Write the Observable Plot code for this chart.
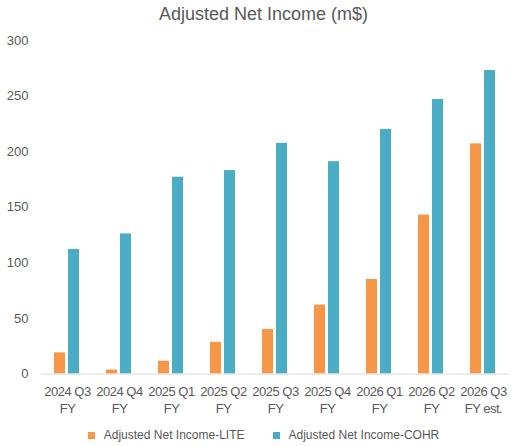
<!DOCTYPE html>
<html><head><meta charset="utf-8">
<script src="https://cdn.jsdelivr.net/npm/d3@7"></script>
<script src="https://cdn.jsdelivr.net/npm/@observablehq/plot@0.6"></script>
<style>
body{margin:0;background:#fff;font-family:"Liberation Sans",Arial,sans-serif;color:#595959;width:527px;}
#title{height:28px;line-height:28px;text-align:center;font-size:18px;}
#legend{display:flex;justify-content:center;gap:28px;font-size:12px;margin-top:8px;}
#legend .item{display:flex;align-items:center;gap:9px;}
#legend .sw{width:7px;height:7px;display:inline-block;}
g[aria-label="fx-axis tick label"] text{letter-spacing:-0.5px;}
</style></head><body>
<div id="title">Adjusted Net Income (m$)</div>
<div id="chart"></div>
<div id="legend"></div>
<script>
const quarters = ["2024 Q3","2024 Q4","2025 Q1","2025 Q2","2025 Q3","2025 Q4","2026 Q1","2026 Q2","2026 Q3"];
const suffixes = ["FY","FY","FY","FY","FY","FY","FY","FY","FY est."];
const series = ["Adjusted Net Income-LITE","Adjusted Net Income-COHR"];
const colors = ["#F79646","#4BACC6"];
const lite = [19, 3.6, 11.5, 28.5, 40, 62, 85, 143, 207];
const cohr = [112, 126, 177, 183, 207.5, 191, 220, 247, 273];
const yTicks = [0,50,100,150,200,250,300];

const data = quarters.flatMap((q,i)=>[
  {q, s: series[0], v: lite[i]},
  {q, s: series[1], v: cohr[i]}
]);

const plot = Plot.plot({
  width: 527, height: 392,
  marginTop: 12, marginBottom: 46.5, marginLeft: 38, marginRight: 15,
  style: {fontSize: "13px", color: "#595959", fontFamily: '"Liberation Sans", Arial, sans-serif', background: "#fff"},
  fx: {domain: quarters, padding: 0, label: null},
  x: {domain: series, paddingInner: 0.2, paddingOuter: 0.857, axis: null},
  y: {domain: [0,300], label: null},
  color: {domain: series, range: colors},
  marks: [
    Plot.axisY(yTicks, {tickSize: 0, tickPadding: 13, label: null, fontSize: 13}),
    Plot.axisFx({anchor: "bottom", tickSize: 0, tickPadding: 10, label: null, fontSize: 13, lineHeight: 1.3,
      tickFormat: d => d + "\n" + suffixes[quarters.indexOf(d)]}),
    Plot.barY(data, {fx: "q", x: "s", y: "v", fill: "s"}),
    Plot.ruleY([0], {stroke: "#d9d9d9", strokeWidth: 1})
  ]
});
document.getElementById("chart").appendChild(plot);

const legend = document.getElementById("legend");
series.forEach((s,i)=>{
  const it = document.createElement("div"); it.className="item";
  const sw = document.createElement("span"); sw.className="sw"; sw.style.background=colors[i];
  const t = document.createElement("span"); t.textContent=s;
  it.appendChild(sw); it.appendChild(t); legend.appendChild(it);
});
</script>
</body></html>
